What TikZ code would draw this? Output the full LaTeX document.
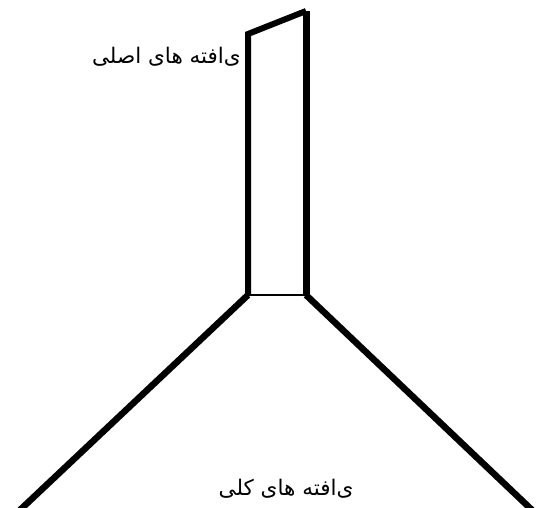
\documentclass[tikz,border=0pt]{standalone}
\usepackage{fontspec}
\TeXXeTstate=1
\newfontfamily\arabicfont[Script=Arabic]{DejaVu Sans}
\begin{document}
\begin{tikzpicture}[x=1pt,y=-1pt,
  edge/.style={line width=6.5pt,line join=miter,line cap=butt},
  thin/.style={line width=2.2pt},
  lbl/.style={font=\arabicfont\fontsize{21.5}{25}\selectfont,inner sep=0pt}]
\useasboundingbox (0,0) rectangle (539,508);
\clip (0,0) rectangle (539,508);
\coordinate (lt) at (248,34);
\coordinate (rt) at (306,11);
\coordinate (lb) at (248,295);
\coordinate (rb) at (306,295);
\coordinate (bl) at (20,510);
\coordinate (br) at (532,510);
\draw[edge,line width=6pt] (lb) -- (lt) -- (rt);
\draw[edge,line width=7pt] (rt) -- (rb);
\draw[thin] (lb) -- (rb);
\draw[edge] (bl) -- (lb);
\draw[edge] (br) -- (rb);
\node[lbl,anchor=east] (top) at (241,57) {\beginR ی\char"200Cافته های اصلی\endR};
\node[lbl] (bot) at (286,489) {\beginR ی\char"200Cافته های کلی\endR};
\end{tikzpicture}
\end{document}
